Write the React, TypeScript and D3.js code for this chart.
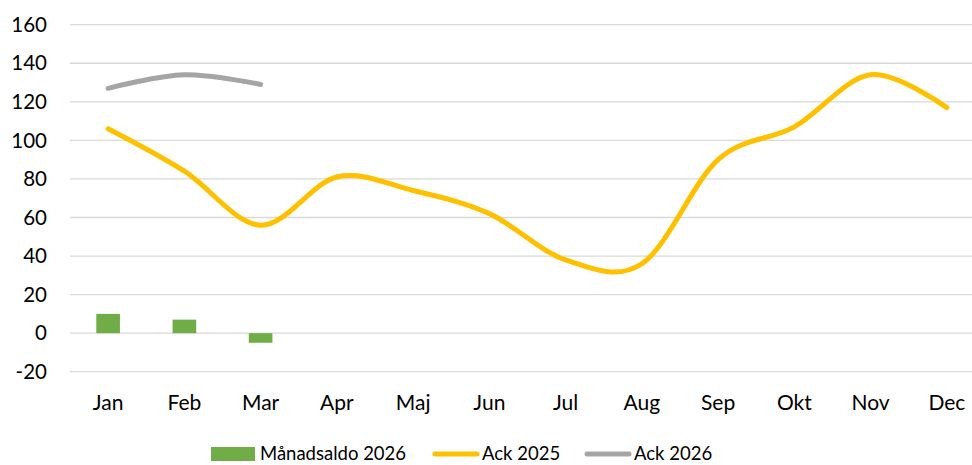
import React, { useEffect, useRef } from "react";
import * as d3 from "d3";

// månader
const months = ["Jan", "Feb", "Mar", "Apr", "Maj", "Jun", "Jul", "Aug", "Sep", "Okt", "Nov", "Dec"];
// månadssaldo 2026 (staplar)
const manadsaldo2026 = [10, 7, -5];
// ackumulerat 2025
const ack2025 = [106, 84, 56, 81, 74, 62, 38, 36, 90, 107, 134, 117];
// ackumulerat 2026
const ack2026 = [127, 134, 129];
const yTicks = [-20, 0, 20, 40, 60, 80, 100, 120, 140, 160];

const legendItems = [
  { label: "Månadsaldo 2026", color: "#70AD47", kind: "rect" },
  { label: "Ack 2025", color: "#FFC000", kind: "line" },
  { label: "Ack 2026", color: "#A5A5A5", kind: "line" },
];

const App = () => {
  const svgRef = useRef<SVGSVGElement | null>(null);

  useEffect(() => {
    const svg = d3.select(svgRef.current);
    svg.selectAll("*").remove();

    const width = 972;
    const font = "Lato, 'Noto Sans', sans-serif";

    // skalor
    const x = d3.scaleBand().domain(months).range([70, 985]).paddingInner(0.69).paddingOuter(0.345);
    const xc = d3.scaleBand().domain(months).range([70, 985]);
    const y = d3.scaleLinear().domain([-20, 160]).range([371.7, 24.7]);

    // rutnät
    svg.append("g")
      .selectAll("line")
      .data(yTicks)
      .enter()
      .append("line")
      .attr("x1", 70)
      .attr("x2", width)
      .attr("y1", (d) => y(d))
      .attr("y2", (d) => y(d))
      .attr("stroke", "#D9D9D9")
      .attr("stroke-width", 1.3);

    // y-axel etiketter
    svg.append("g")
      .selectAll("text")
      .data(yTicks)
      .enter()
      .append("text")
      .attr("x", 47)
      .attr("y", (d) => y(d))
      .attr("dy", "0.35em")
      .attr("text-anchor", "end")
      .attr("font-family", font)
      .attr("font-size", 20.5)
      .attr("fill", "#000")
      .text((d) => d);

    // x-axel etiketter
    svg.append("g")
      .selectAll("text")
      .data(months)
      .enter()
      .append("text")
      .attr("x", (d) => xc(d)! + xc.bandwidth() / 2)
      .attr("y", 410)
      .attr("text-anchor", "middle")
      .attr("font-family", font)
      .attr("font-size", 21)
      .attr("fill", "#000")
      .text((d) => d);

    // staplar
    svg.append("g")
      .selectAll("rect")
      .data(manadsaldo2026)
      .enter()
      .append("rect")
      .attr("x", (d, i) => x(months[i])!)
      .attr("width", x.bandwidth())
      .attr("y", (d) => y(Math.max(0, d)))
      .attr("height", (d) => Math.abs(y(d) - y(0)))
      .attr("fill", "#70AD47");

    // linjer
    const line = d3
      .line<number>()
      .x((d, i) => xc(months[i])! + xc.bandwidth() / 2)
      .y((d) => y(d))
      .curve(d3.curveCatmullRom.alpha(0));

    svg.append("path")
      .datum(ack2025)
      .attr("fill", "none")
      .attr("stroke", "#FFC000")
      .attr("stroke-width", 5)
      .attr("stroke-linecap", "round")
      .attr("d", line);

    svg.append("path")
      .datum(ack2026)
      .attr("fill", "none")
      .attr("stroke", "#A5A5A5")
      .attr("stroke-width", 5)
      .attr("stroke-linecap", "round")
      .attr("d", line);

    // förklaring
    const legendX = [211, 433, 585];
    const lg = svg.append("g");
    legendItems.forEach((item, i) => {
      const lx = legendX[i];
      if (item.kind === "rect") {
        lg.append("rect").attr("x", lx).attr("y", 447).attr("width", 44).attr("height", 14).attr("fill", item.color);
      } else {
        lg.append("line")
          .attr("x1", lx + 2)
          .attr("x2", lx + 44)
          .attr("y1", 454)
          .attr("y2", 454)
          .attr("stroke", item.color)
          .attr("stroke-width", 5)
          .attr("stroke-linecap", "round");
      }
      lg.append("text")
        .attr("x", lx + 49)
        .attr("y", 460)
        .attr("font-family", font)
        .attr("font-size", 18.5)
        .attr("fill", "#000")
        .text(item.label);
    });
  }, []);

  return (
    <div style={{ position: "fixed", top: 0, left: 0, width: 972, height: 465, background: "#fff" }}>
      <svg ref={svgRef} width={972} height={465} style={{ display: "block", overflow: "hidden" }}></svg>
    </div>
  );
};

export default App;
